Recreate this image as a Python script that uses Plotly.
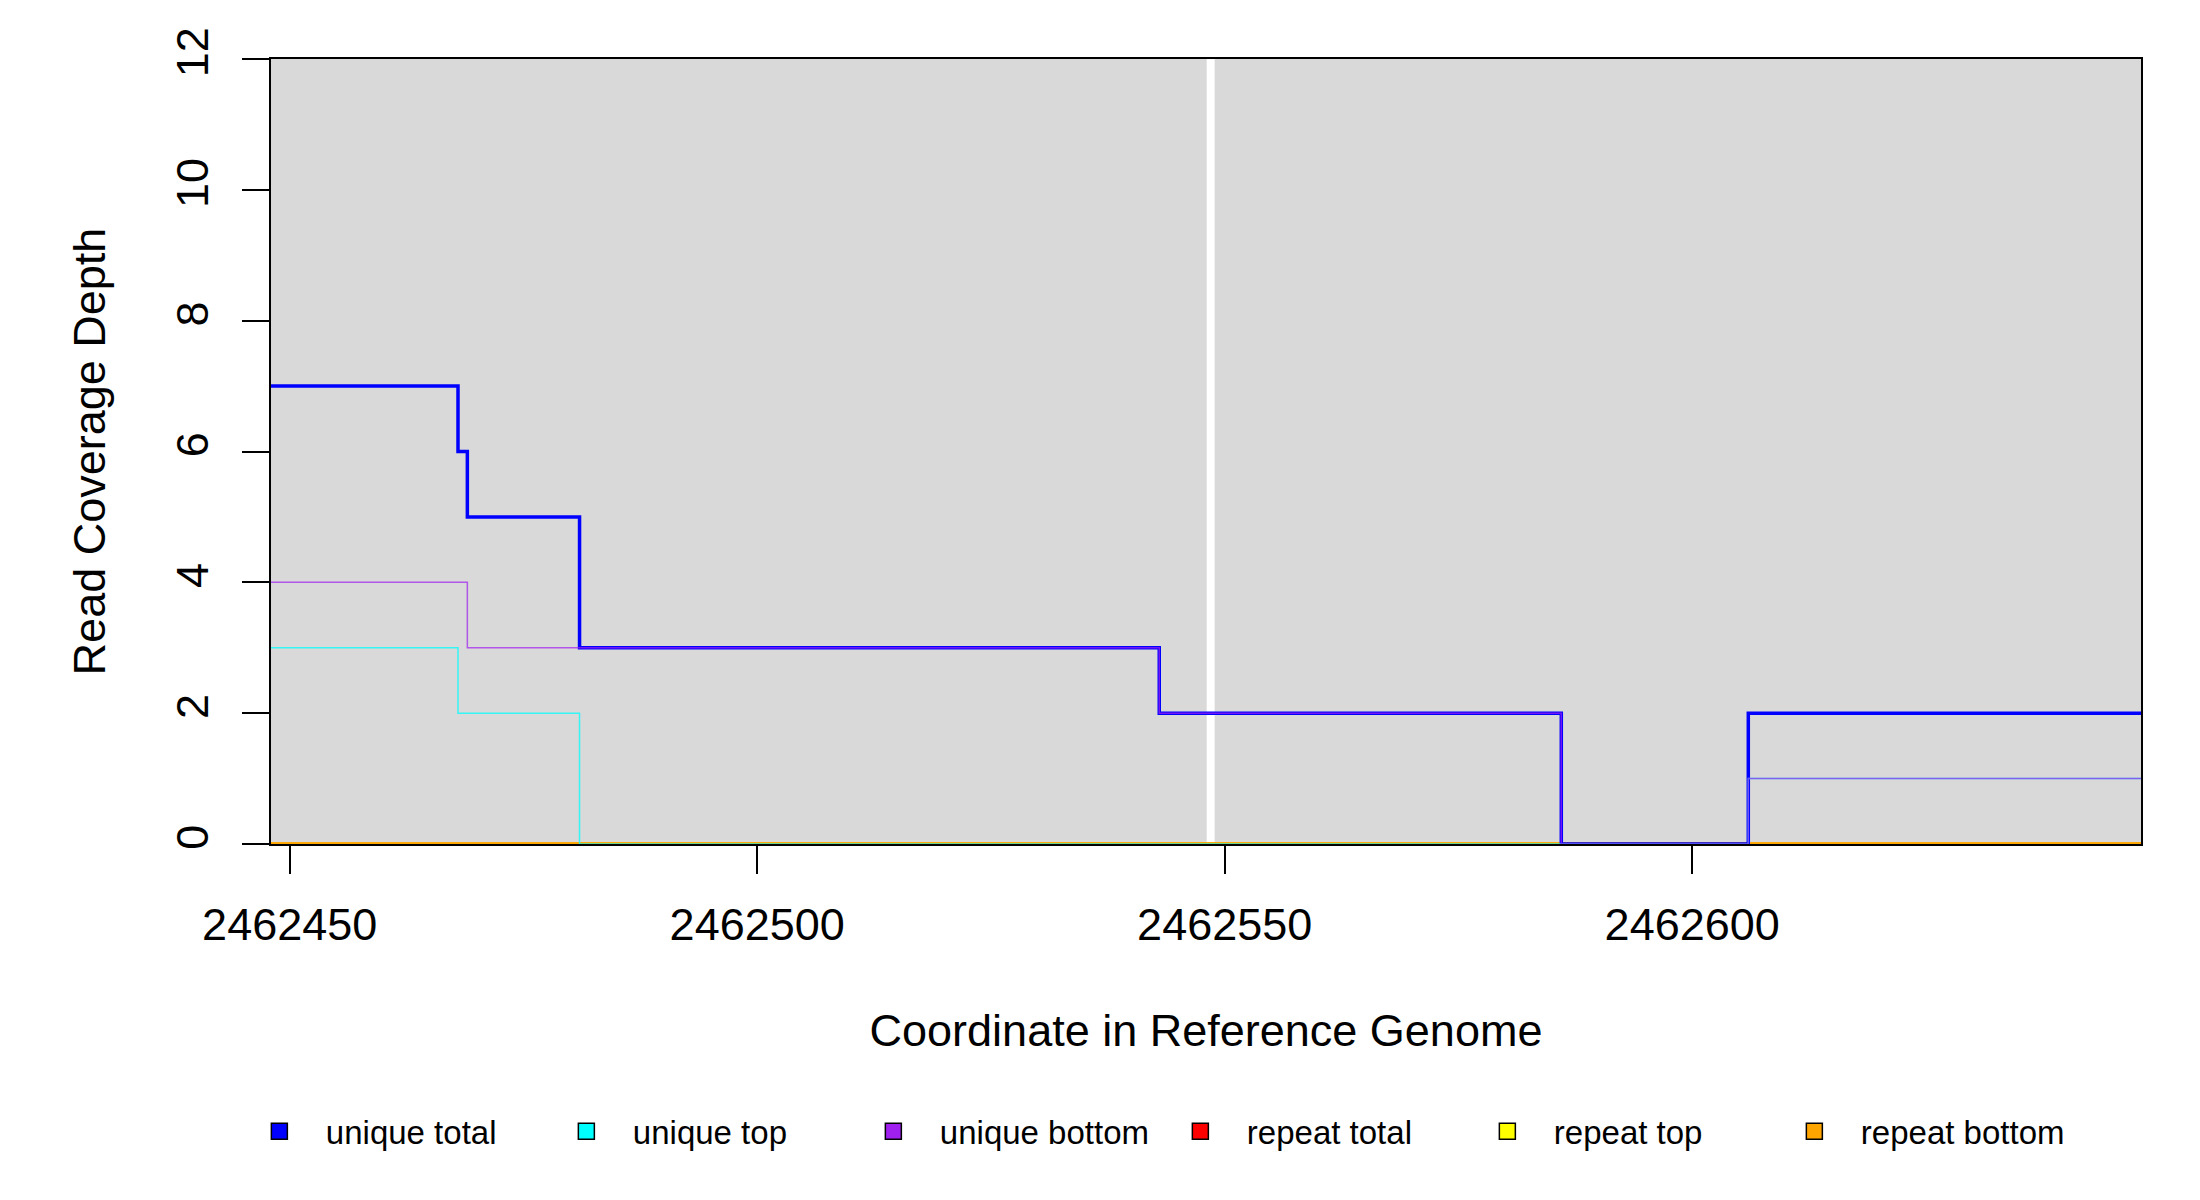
import plotly.graph_objects as go

# breakpoints of the step coverage (segment i runs from pos[i] to pos[i+1])
positions = [2462448, 2462468, 2462469, 2462481, 2462543, 2462586, 2462606, 2462648]

unique_total = [7, 6, 5, 3, 2, 0, 2]
unique_top = [3, 2, 2, 0, 0, 0, 1]
unique_bottom = [4, 4, 3, 3, 2, 0, 1]
repeat_total = [0, 0, 0, 0, 0, 0, 0]
repeat_top = [0, 0, 0, 0, 0, 0, 0]
repeat_bottom = [0, 0, 0, 0, 0, 0, 0]

highlight_pos = 2462548.5

x_ticks = [2462450, 2462500, 2462550, 2462600]
y_ticks = [0, 2, 4, 6, 8, 10, 12]

FONT = "Liberation Sans, Arial, sans-serif"


def steps(vals):
    # repeat last value so the final segment reaches the end
    return vals + [vals[-1]]


fig = go.Figure()

# repeats underneath, uniques on top (semi transparent like the original)
lines = [
    (repeat_total, "red", 3, 1.0),
    (repeat_top, "yellow", 3, 1.0),
    (repeat_bottom, "orange", 3.5, 1.0),
    (unique_total, "blue", 3.5, 1.0),
    (unique_top, "cyan", 1.5, 0.75),
    (unique_bottom, "#A020F0", 1.5, 0.7),
]
for vals, col, w, op in lines:
    fig.add_trace(go.Scatter(x=positions, y=steps(vals), mode="lines",
                             line=dict(color=col, width=w, shape="hv"),
                             opacity=op, showlegend=False, hoverinfo="skip"))

legend_items = [("unique total", "blue"), ("unique top", "cyan"),
                ("unique bottom", "#A020F0"), ("repeat total", "red"),
                ("repeat top", "yellow"), ("repeat bottom", "orange")]
for name, col in legend_items:
    fig.add_trace(go.Scatter(x=[None], y=[None], mode="markers", name=name,
                             marker=dict(symbol="square", size=16, color=col,
                                         line=dict(color="black", width=1.5))))

fig.add_vline(x=highlight_pos, line=dict(color="white", width=8), layer="below")

fig.update_layout(
    width=2200, height=1200,
    margin=dict(l=263, r=67, t=51, b=364),
    paper_bgcolor="white", plot_bgcolor="#D9D9D9",
    font=dict(family=FONT, size=45, color="black"),
    showlegend=True,
    legend=dict(orientation="h", x=-0.0204, xanchor="left", y=-0.366, yanchor="middle",
                entrywidth=209, entrywidthmode="pixels", itemwidth=83,
                font=dict(size=33), bgcolor="rgba(0,0,0,0)", itemsizing="trace"),
)
fig.update_xaxes(range=[positions[0], positions[-1]], tickvals=x_ticks,
                 ticktext=[str(v) for v in x_ticks],
                 ticks="outside", ticklen=28, tickwidth=1.5, tickcolor="black",
                 showgrid=False, zeroline=False,
                 showline=True, mirror=True, linecolor="black", linewidth=1.5,
                 ticklabelstandoff=12,
                 title=dict(text="Coordinate in Reference Genome", standoff=66,
                            font=dict(size=45)))
fig.update_yaxes(range=[0, 12], tickvals=y_ticks, tickangle=-90,
                 ticks="outside", ticklen=27, tickwidth=1.5, tickcolor="black",
                 showgrid=False, zeroline=False,
                 showline=True, mirror=True, linecolor="black", linewidth=1.5,
                 ticklabelstandoff=16,
                 title=dict(text="Read Coverage Depth", standoff=48,
                            font=dict(size=45)))

fig.write_html("out.html")
